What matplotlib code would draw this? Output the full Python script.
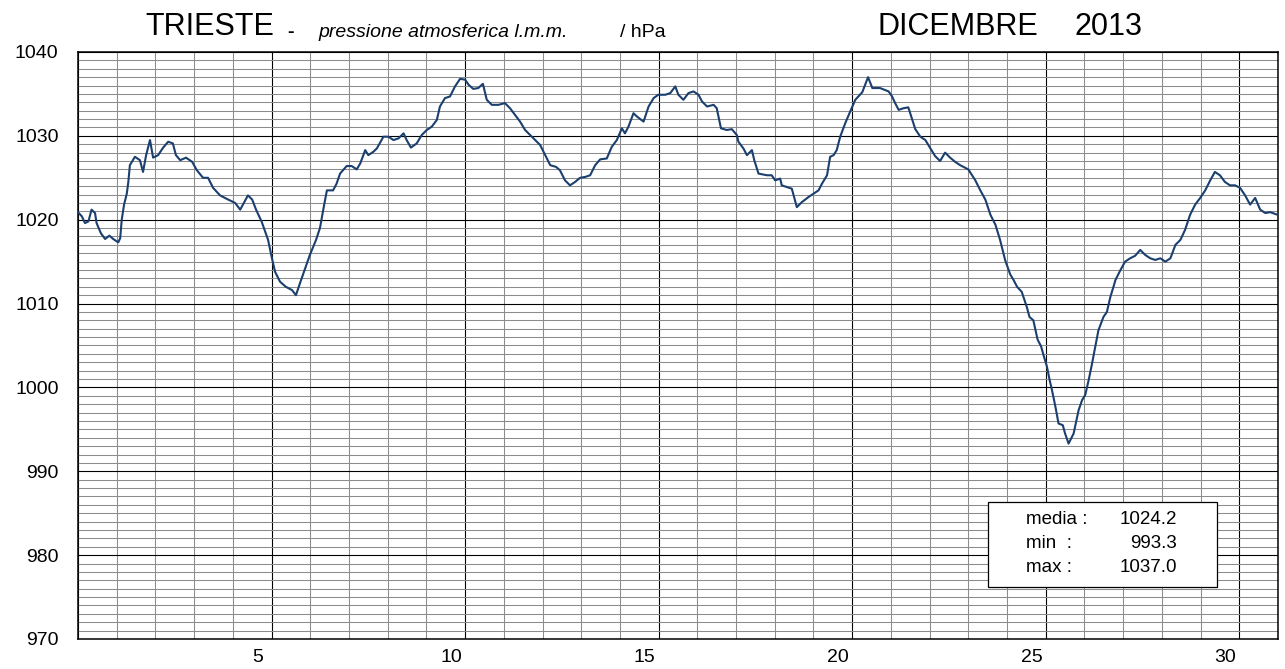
import matplotlib
matplotlib.use('Agg')
import matplotlib.pyplot as plt
import matplotlib.ticker as ticker
from matplotlib.patches import Rectangle

plt.rcParams['font.family'] = ['Liberation Sans', 'DejaVu Sans']

# giorno del mese (0 = inizio 1 dicembre) e pressione l.m.m. in hPa
days = [0.00, 0.10, 0.18, 0.27, 0.35, 0.44, 0.48, 0.59, 0.70, 0.81, 0.91, 1.04, 1.09, 1.13, 1.19,
        1.26, 1.30, 1.34, 1.47, 1.60, 1.68, 1.76, 1.86, 1.94, 2.07, 2.20, 2.33, 2.45, 2.53, 2.64,
        2.79, 2.95, 3.07, 3.23, 3.36, 3.49, 3.67, 3.88, 4.06, 4.19, 4.26, 4.39, 4.50, 4.60, 4.75,
        4.91, 5.01, 5.09, 5.22, 5.37, 5.53, 5.63, 5.74, 5.87, 5.99, 6.15, 6.25, 6.36, 6.43, 6.59,
        6.68, 6.77, 6.94, 7.07, 7.20, 7.29, 7.42, 7.50, 7.63, 7.72, 7.89, 8.02, 8.15, 8.28, 8.41,
        8.49, 8.60, 8.75, 8.88, 9.01, 9.14, 9.27, 9.35, 9.48, 9.61, 9.74, 9.87, 10.00, 10.09, 10.21,
        10.34, 10.46, 10.56, 10.69, 10.86, 11.03, 11.16, 11.29, 11.42, 11.55, 11.68, 11.81, 11.94,
        12.07, 12.20, 12.35, 12.45, 12.58, 12.71, 12.84, 12.97, 13.10, 13.23, 13.36, 13.49, 13.66,
        13.79, 13.92, 14.05, 14.13, 14.22, 14.35, 14.44, 14.61, 14.74, 14.87, 14.99, 15.17, 15.30,
        15.43, 15.51, 15.64, 15.77, 15.90, 16.03, 16.12, 16.25, 16.42, 16.50, 16.61, 16.76, 16.89,
        17.02, 17.06, 17.19, 17.28, 17.41, 17.47, 17.58, 17.80, 17.92, 18.01, 18.14, 18.18, 18.31,
        18.44, 18.57, 18.70, 18.87, 19.00, 19.13, 19.22, 19.35, 19.43, 19.52, 19.60, 19.69, 19.82,
        19.93, 20.08, 20.26, 20.41, 20.52, 20.72, 20.94, 21.03, 21.11, 21.20, 21.33, 21.45, 21.54,
        21.63, 21.76, 21.89, 22.02, 22.14, 22.27, 22.40, 22.53, 22.66, 22.79, 23.00, 23.18, 23.31,
        23.44, 23.57, 23.70, 23.82, 23.95, 24.08, 24.17, 24.26, 24.38, 24.51, 24.58, 24.68, 24.79,
        24.88, 24.94, 25.03, 25.10, 25.16, 25.25, 25.33, 25.44, 25.50, 25.59, 25.72, 25.85, 25.94,
        26.02, 26.11, 26.19, 26.28, 26.36, 26.49, 26.58, 26.67, 26.75, 26.80, 26.93, 27.05, 27.18,
        27.31, 27.44, 27.57, 27.70, 27.83, 27.96, 28.09, 28.22, 28.35, 28.48, 28.60, 28.73, 28.86,
        28.99, 29.12, 29.25, 29.37, 29.50, 29.63, 29.76, 29.89, 30.02, 30.15, 30.28, 30.41, 30.54,
        30.67, 30.80, 30.98]
pressure = [1020.9, 1020.4, 1019.6, 1019.8, 1021.2, 1020.8, 1019.6, 1018.4, 1017.7, 1018.1, 1017.7,
            1017.3, 1017.8, 1020.0, 1021.8, 1023.1, 1024.5, 1026.5, 1027.5, 1027.1, 1025.7, 1027.7,
            1029.5, 1027.4, 1027.7, 1028.6, 1029.3, 1029.1, 1027.7, 1027.1, 1027.4, 1026.9, 1025.9,
            1025.0, 1025.0, 1023.8, 1022.9, 1022.4, 1022.0, 1021.2, 1021.8, 1022.9, 1022.4, 1021.2,
            1019.7, 1017.6, 1015.4, 1013.8, 1012.6, 1012.0, 1011.6, 1011.0, 1012.5, 1014.2, 1015.8,
            1017.6, 1019.0, 1021.8, 1023.5, 1023.5, 1024.3, 1025.5, 1026.4, 1026.4, 1026.0, 1026.7,
            1028.3, 1027.7, 1028.1, 1028.5, 1029.9, 1029.9, 1029.5, 1029.7, 1030.3, 1029.5, 1028.6,
            1029.1, 1030.1, 1030.7, 1031.1, 1031.9, 1033.5, 1034.5, 1034.7, 1035.9, 1036.8, 1036.7,
            1036.1, 1035.6, 1035.7, 1036.2, 1034.3, 1033.7, 1033.7, 1033.9, 1033.3, 1032.5, 1031.7,
            1030.7, 1030.1, 1029.5, 1028.9, 1027.7, 1026.5, 1026.3, 1025.9, 1024.7, 1024.1, 1024.5,
            1025.0, 1025.1, 1025.3, 1026.5, 1027.2, 1027.3, 1028.7, 1029.5, 1030.9, 1030.3, 1031.1,
            1032.7, 1032.3, 1031.7, 1033.5, 1034.5, 1034.9, 1034.9, 1035.1, 1035.9, 1034.9, 1034.3,
            1035.1, 1035.3, 1034.9, 1034.1, 1033.5, 1033.7, 1033.3, 1030.9, 1030.7, 1030.8, 1030.1,
            1029.3, 1028.5, 1027.7, 1028.3, 1027.1, 1025.5, 1025.3, 1025.3, 1024.7, 1024.9, 1024.1,
            1023.9, 1023.7, 1021.5, 1022.1, 1022.7, 1023.1, 1023.5, 1024.3, 1025.3, 1027.5, 1027.7,
            1028.3, 1029.9, 1031.5, 1032.7, 1034.3, 1035.2, 1037.0, 1035.7, 1035.7, 1035.3, 1034.7,
            1033.9, 1033.1, 1033.3, 1033.4, 1032.1, 1030.8, 1029.9, 1029.5, 1028.5, 1027.6, 1027.0,
            1028.0, 1027.4, 1026.9, 1026.5, 1026.0, 1024.7, 1023.5, 1022.4, 1020.6, 1019.4, 1017.6,
            1015.2, 1013.5, 1012.8, 1012.0, 1011.4, 1009.6, 1008.4, 1008.0, 1005.7, 1004.9, 1003.9,
            1002.5, 1000.9, 999.7, 997.7, 995.7, 995.5, 994.5, 993.3, 994.5, 997.3, 998.5, 999.1,
            1000.9, 1002.7, 1004.9, 1006.8, 1008.4, 1009.0, 1010.8, 1012.0, 1012.8, 1014.0, 1015.0,
            1015.4, 1015.7, 1016.4, 1015.8, 1015.4, 1015.2, 1015.4, 1015.0, 1015.4, 1017.0, 1017.6,
            1018.8, 1020.6, 1021.8, 1022.6, 1023.5, 1024.7, 1025.7, 1025.3, 1024.5, 1024.1, 1024.1,
            1023.8, 1022.9, 1021.8, 1022.6, 1021.2, 1020.8, 1020.9, 1020.6]

day_labels = [5, 10, 15, 20, 25, 30]
stat_names = ['media :', 'min  :', 'max :']
stat_values = ['1024.2', '993.3', '1037.0']

W, H = 1285, 669
fig = plt.figure(figsize=(W / 100, H / 100), dpi=100)
ax = fig.add_axes([78 / W, 1 - 639 / H, 1200 / W, 587 / H])

ax.plot(days, pressure, color='#1b3f6e', lw=1.5, zorder=3)

ax.set_xlim(0, 31)
ax.set_ylim(970, 1040)

# griglia: linee grigie ogni giorno / hPa, nere ogni 5 giorni / 10 hPa
ax.xaxis.set_major_locator(ticker.MultipleLocator(5))
ax.xaxis.set_minor_locator(ticker.MultipleLocator(1))
ax.yaxis.set_major_locator(ticker.MultipleLocator(10))
ax.yaxis.set_minor_locator(ticker.MultipleLocator(1))
ax.grid(which='minor', color='#8c8c8c', lw=0.75)
ax.grid(which='major', color='black', lw=0.8)
ax.set_axisbelow(True)
ax.tick_params(which='both', length=0)
ax.tick_params(axis='y', labelsize=14, pad=14)
ax.set_xticklabels([])
for s in ax.spines.values():
    s.set_linewidth(1.1)

for d in day_labels:
    ax.text(d - 0.36, -0.031, str(d), transform=ax.get_xaxis_transform(),
            ha='center', va='center', fontsize=14)

# titolo
fig.text(145 / W, 1 - 35 / H, 'TRIESTE', fontsize=22, va='baseline')
fig.text(287 / W, 1 - 37 / H, '-', fontsize=14, va='baseline', fontweight='bold')
fig.text(318 / W, 1 - 37 / H, 'pressione atmosferica l.m.m.', fontsize=14,
         style='italic', va='baseline')
fig.text(620 / W, 1 - 37 / H, '/ hPa', fontsize=14, va='baseline')
fig.text(877 / W, 1 - 35 / H, 'DICEMBRE', fontsize=22, va='baseline')
fig.text(1075 / W, 1 - 35 / H, '2013', fontsize=22, va='baseline')

# riquadro statistiche
ax.add_patch(Rectangle((0.758, 0.0887), 0.191, 0.145, transform=ax.transAxes,
                       facecolor='white', edgecolor='black', lw=0.9, zorder=4))
for k, (name, val) in enumerate(zip(stat_names, stat_values)):
    yy = 0.203 - k * 0.041
    ax.text(0.79, yy, name, transform=ax.transAxes, fontsize=13.5, va='center', zorder=5)
    ax.text(0.916, yy, val, transform=ax.transAxes, fontsize=13.5, va='center', ha='right', zorder=5)

plt.savefig('out.png', dpi=100)
